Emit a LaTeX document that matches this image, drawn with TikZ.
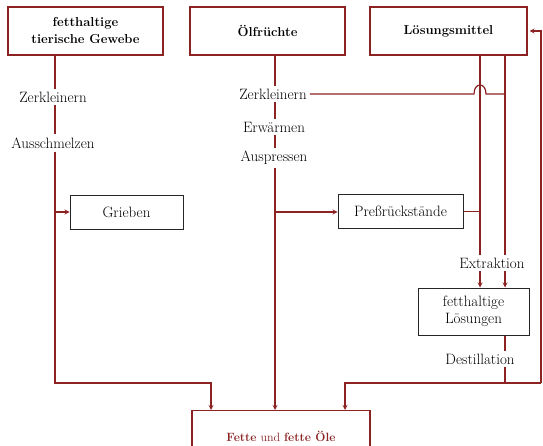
\documentclass[tikz,border=0pt]{standalone}
\usepackage{fontspec}
\usepackage{tikz}
\usetikzlibrary{arrows,positioning}
\definecolor{brn}{RGB}{140,35,35}

\begin{document}
\begin{tikzpicture}[
    x=1pt, y=1pt,
    hdr/.style={draw=brn, line width=1.2pt, minimum width=155pt, minimum height=48pt, align=center, font=\fontsize{13}{17}\selectfont\bfseries},
    box/.style={draw=black!85, line width=1pt, minimum height=33pt, align=center, font=\fontsize{15}{17}\selectfont},
    lbl/.style={inner sep=3pt, font=\fontsize{15}{17}\selectfont},
    line/.style={draw=brn, line width=1.2pt},
    arrow/.style={->, line, >=stealth}
]
    \useasboundingbox (0,0) rectangle (543,445);
    \clip (0,0) rectangle (543,445);

    % columns
    \coordinate (colL) at (55,0);
    \coordinate (colM) at (275,0);
    \coordinate (colA) at (480,0);
    \coordinate (colB) at (505,0);
    \coordinate (inL) at (211,0);
    \coordinate (inR) at (345,0);

    % starting materials
    \node[hdr] (gewebe) at (85.5,414) {fetthaltige\\tierische Gewebe};
    \node[hdr] (fruechte) at (267.5,414) {Ölfrüchte};
    \node[hdr, minimum width=157pt] (loesm) at (448.5,414) {Lösungsmittel};

    % process steps
    \node[lbl] (zerkl1) at (53,348) {Zerkleinern};
    \node[lbl] (ausschm) at (53,302) {Ausschmelzen};
    \node[lbl] (zerkl2) at (273,351) {Zerkleinern};
    \node[lbl] (erw) at (274,318) {Erwärmen};
    \node[lbl] (ausp) at (274,287) {Auspressen};
    \node[lbl] (extr) at (492,182) {Extraktion};
    \node[lbl] (destill) at (480,86) {Destillation};

    % intermediate products
    \node[box, minimum width=113pt] (grieben) at (126.5,232.5) {Grieben};
    \node[box, minimum width=125pt] (pressr) at (400.5,233.5) {Preßrückstände};
    \node[box, minimum width=111pt, minimum height=47pt] (loesg) at (473.5,133.5) {fetthaltige\\Lösungen};

    % end product
    \node[hdr, anchor=north, minimum width=178pt, minimum height=52pt, text=brn, font=\fontsize{12}{15}\selectfont] (fette) at (281,35) {\textbf{Fette} und \textbf{fette Öle}};

    \coordinate (kL) at (55,62);
    \coordinate (gL) at (55,233);
    \coordinate (pM) at (275,233);
    \coordinate (hopA) at (474,351);
    \coordinate (hopB) at (486,351);
    \coordinate (jB) at (505,351);
    \coordinate (kR) at (505,62);
    \coordinate (edge) at (541,62);

    % animal fats
    \draw[line] (gewebe.south -| colL) -- (zerkl1.north -| colL);
    \draw[line] (zerkl1.south -| colL) -- (ausschm.north -| colL);
    \draw[arrow] (ausschm.south -| colL) -- (kL) -| (fette.north -| inL);
    \draw[arrow] (gL) -- (grieben.west |- gL);

    % oil seeds
    \draw[line] (fruechte.south -| colM) -- (zerkl2.north -| colM);
    \draw[line] (zerkl2.south -| colM) -- (erw.north -| colM);
    \draw[line] (erw.south -| colM) -- (ausp.north -| colM);
    \draw[arrow] (ausp.south -| colM) -- (fette.north -| colM);
    \draw[arrow] (pM) -- (pressr.west |- pM);
    \draw[line] (zerkl2.east) -- (hopA) .. controls +(0,12) and +(0,12) .. (hopB) -- (jB);

    % extraction
    \draw[line] (loesm.south -| colA) -- (extr.north -| colA);
    \draw[line] (loesm.south -| colB) -- (extr.north -| colB);
    \draw[line] (pressr.east) -- (pressr.east -| colA);
    \draw[arrow] (extr.south -| colA) -- (loesg.north -| colA);
    \draw[arrow] (extr.south -| colB) -- (loesg.north -| colB);
    \draw[line] (loesg.south -| colB) -- (destill.north -| colB);
    \draw[line] (destill.south -| colB) -- (kR);
    \draw[arrow] (edge) -| (fette.north -| inR);
    \draw[arrow, shorten >=2pt] (edge) |- (loesm.east);
\end{tikzpicture}
\end{document}
